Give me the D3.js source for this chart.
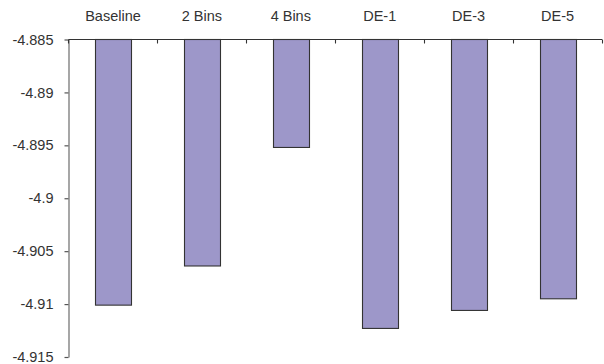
<!DOCTYPE html>
<html>
<head>
<meta charset="utf-8">
<script src="https://cdn.jsdelivr.net/npm/d3@7"></script>
<style>
  html, body { margin: 0; padding: 0; background: #fff; }
  svg text { font-family: "Liberation Sans", Arial, sans-serif; font-weight: normal; fill: #333; }
</style>
</head>
<body>
<svg id="chart" width="604" height="364"></svg>
<script>
// Log-likelihood per method (bars hang down from the top axis)
const categories = ["Baseline", "2 Bins", "4 Bins", "DE-1", "DE-3", "DE-5"];
const values = [-4.9101, -4.9064, -4.8952, -4.9123, -4.9106, -4.9095];
const yTicks = [-4.885, -4.89, -4.895, -4.9, -4.905, -4.91, -4.915];
const yTickLabels = ["-4.885", "-4.89", "-4.895", "-4.9", "-4.905", "-4.91", "-4.915"];

const svg = d3.select("#chart");
const plotLeft = 68.5, plotRight = 602, plotTop = 39.5, plotBottom = 357;

const x = d3.scaleBand()
  .domain(categories)
  .range([plotLeft, plotRight])
  .paddingInner(0.6)
  .paddingOuter(0.3);

const y = d3.scaleLinear()
  .domain([-4.885, -4.915])
  .range([plotTop, plotBottom]);

// Bars
svg.append("g")
  .selectAll("rect")
  .data(values)
  .join("rect")
  .attr("x", (d, i) => Math.round(x(categories[i])) + 0.5)
  .attr("y", y(-4.885))
  .attr("width", Math.round(x.bandwidth()))
  .attr("height", d => y(d) - y(-4.885))
  .attr("fill", "#9d97c9")
  .attr("stroke", "#333")
  .attr("stroke-width", 1.1);

// Left value axis
const yAxis = svg.append("g")
  .attr("transform", `translate(${plotLeft},0)`)
  .call(d3.axisLeft(y)
    .tickValues(yTicks)
    .tickFormat((d, i) => yTickLabels[i])
    .tickSize(4)
    .tickPadding(11)
    .tickSizeOuter(0));
yAxis.select(".domain").attr("stroke", "#777").attr("stroke-width", 1.3);
yAxis.selectAll(".tick line").attr("stroke", "#555").attr("stroke-width", 1.2);
yAxis.selectAll(".tick text")
  .attr("font-size", "14.5px")
  .attr("font-family", "Liberation Sans, Arial, sans-serif")
  .attr("fill", "#333");

// Top category axis with ticks between categories pointing into the plot
const step = x.step();
const gap = (step - x.bandwidth()) / 2;
const boundaries = categories.map(c => x(c) - gap)
  .concat([x(categories[categories.length - 1]) + x.bandwidth() + gap]);

const topAxis = svg.append("g");
topAxis.append("line")
  .attr("x1", plotLeft).attr("x2", plotRight)
  .attr("y1", plotTop).attr("y2", plotTop)
  .attr("stroke", "#333").attr("stroke-width", 1.1);
topAxis.selectAll("line.tick")
  .data(boundaries)
  .join("line")
  .attr("class", "tick")
  .attr("x1", d => Math.round(d) + 0.5).attr("x2", d => Math.round(d) + 0.5)
  .attr("y1", plotTop).attr("y2", plotTop + 4)
  .attr("stroke", "#333").attr("stroke-width", 1.1);
topAxis.selectAll("text")
  .data(categories)
  .join("text")
  .attr("x", d => x(d) + x.bandwidth() / 2)
  .attr("y", 21)
  .attr("text-anchor", "middle")
  .attr("font-size", "14.5px")
  .text(d => d);
</script>
</body>
</html>
